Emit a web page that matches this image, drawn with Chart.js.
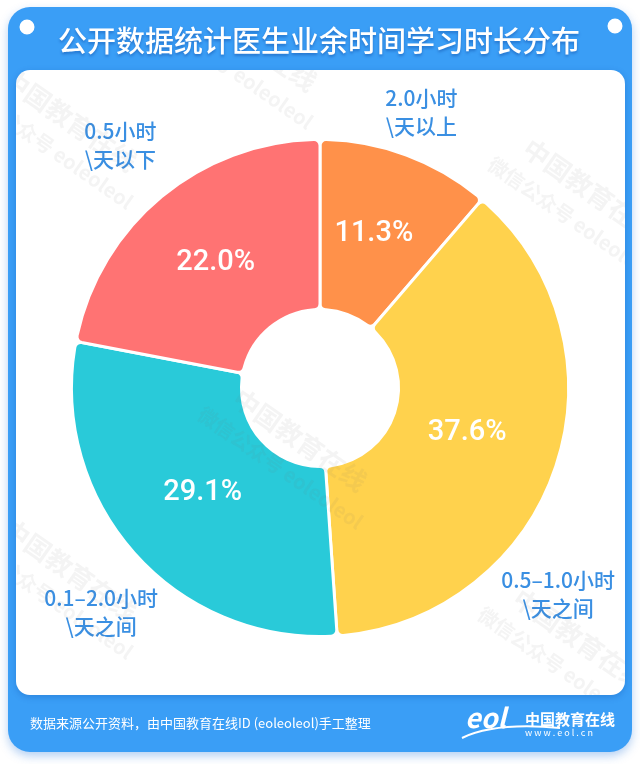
<!DOCTYPE html>
<html lang="zh">
<head>
<meta charset="utf-8">
<title>公开数据统计医生业余时间学习时长分布</title>
<script src="https://cdn.jsdelivr.net/npm/chart.js@4.4.1/dist/chart.umd.min.js"></script>
<style>
    html, body { margin: 0; padding: 0; background: #fff; }
    canvas { display: block; }
</style>
</head>
<body>
<canvas id="studyChart" width="640" height="764"></canvas>
<script>
// Chart data (clockwise from 12 o'clock)
const categories = ['2.0小时\n\\天以上', '0.5–1.0小时\n\\天之间', '0.1–2.0小时\n\\天之间', '0.5小时\n\\天以下'];
const shares = [11.3, 37.6, 29.1, 22.0];
const sliceColors = ['#FF914A', '#FFD24D', '#29CAD9', '#FF7373'];

const titleText = '公开数据统计医生业余时间学习时长分布';
const sourceText = '数据来源公开资料，由中国教育在线ID (eoleoleol)手工整理';

const FONT = '"Noto Sans CJK SC", "Noto Sans", sans-serif';
const BLUE = '#3A9EF6';
const LABEL_BLUE = '#3A8FE2';

// small nudges for the text around the ring (px)
const outerNudge = [[-3, 6], [-47, 111], [6, 25], [-8, -11]];
const innerNudge = [[-3, -1], [-8, -7], [5, -4], [0, 1]];

function roundRect(ctx, x, y, w, h, r) {
    ctx.beginPath();
    ctx.moveTo(x + r, y);
    ctx.arcTo(x + w, y, x + w, y + h, r);
    ctx.arcTo(x + w, y + h, x, y + h, r);
    ctx.arcTo(x, y + h, x, y, r);
    ctx.arcTo(x, y, x + w, y, r);
    ctx.closePath();
}

// Card background, title, footer
const backgroundPlugin = {
    id: 'cardBackground',
    beforeDraw(chart) {
        const ctx = chart.ctx;
        ctx.save();
        ctx.fillStyle = '#fff';
        ctx.fillRect(0, 0, chart.width, chart.height);

        ctx.shadowColor = 'rgba(40, 120, 220, 0.35)';
        ctx.shadowBlur = 10;
        ctx.shadowOffsetY = 4;
        ctx.fillStyle = BLUE;
        roundRect(ctx, 8, 7, 624, 745, 22);
        ctx.fill();

        ctx.shadowColor = 'rgba(0, 60, 150, 0.25)';
        ctx.shadowBlur = 6;
        ctx.shadowOffsetY = 2;
        ctx.fillStyle = '#fff';
        roundRect(ctx, 16, 70, 609, 625, 14);
        ctx.fill();
        ctx.shadowColor = 'transparent';

        // dots in the corners
        ctx.beginPath();
        ctx.arc(27, 27, 7.5, 0, Math.PI * 2);
        ctx.arc(615, 26, 7.5, 0, Math.PI * 2);
        ctx.fill();

        // title
        ctx.shadowColor = 'rgba(0, 50, 140, 0.4)';
        ctx.shadowBlur = 3;
        ctx.shadowOffsetY = 2;
        ctx.font = '500 29px ' + FONT;
        ctx.textAlign = 'center';
        ctx.textBaseline = 'middle';
        ctx.fillText(titleText, 319, 41);
        ctx.shadowColor = 'transparent';

        // footer
        ctx.font = '13px ' + FONT;
        ctx.textAlign = 'left';
        ctx.fillText(sourceText, 30, 723);

        // logo
        ctx.font = 'italic bold 27px ' + FONT;
        ctx.fillText('eol', 465, 718);
        ctx.strokeStyle = '#fff';
        ctx.lineWidth = 2;
        ctx.beginPath();
        ctx.moveTo(462, 738);
        ctx.quadraticCurveTo(495, 722, 560, 728);
        ctx.stroke();
        ctx.font = 'bold 15px ' + FONT;
        ctx.fillText('中国教育在线', 525, 719);
        ctx.font = '9px ' + FONT;
        ctx.fillText('w w w . e o l . c n', 525, 733);
        ctx.restore();
    }
};

// Percent labels inside slices and category labels outside
const sliceLabelsPlugin = {
    id: 'sliceLabels',
    afterDatasetsDraw(chart) {
        const ctx = chart.ctx;
        const arcs = chart.getDatasetMeta(0).data;
        ctx.save();
        ctx.textAlign = 'center';
        ctx.textBaseline = 'middle';
        arcs.forEach((arc, i) => {
            const pos = arc.tooltipPosition();
            ctx.fillStyle = '#fff';
            ctx.font = '500 29px Roboto, ' + FONT;
            ctx.fillText(shares[i].toFixed(1) + '%', pos.x + innerNudge[i][0], pos.y + innerNudge[i][1]);

            const p = arc.getProps(['x', 'y', 'startAngle', 'endAngle', 'outerRadius']);
            const mid = (p.startAngle + p.endAngle) / 2;
            const r = p.outerRadius + 52;
            const cx = p.x + Math.cos(mid) * r + outerNudge[i][0];
            const cy = p.y + Math.sin(mid) * r + outerNudge[i][1];
            const lines = categories[i].split('\n');
            ctx.fillStyle = LABEL_BLUE;
            ctx.font = '500 21px ' + FONT;
            lines.forEach((line, k) => {
                ctx.fillText(line, cx, cy + (k - (lines.length - 1) / 2) * 28);
            });
        });
        ctx.restore();
    }
};

// faint watermark
const watermarkPlugin = {
    id: 'watermark',
    afterDraw(chart) {
        const ctx = chart.ctx;
        const spots = [[70, 120], [250, 40], [590, 190], [300, 440], [70, 570], [580, 640]];
        ctx.save();
        ctx.beginPath();
        roundRect(ctx, 16, 70, 609, 625, 14);
        ctx.clip();
        ctx.fillStyle = 'rgba(110, 110, 110, 0.08)';
        ctx.textAlign = 'center';
        ctx.textBaseline = 'middle';
        spots.forEach(([x, y]) => {
            ctx.save();
            ctx.translate(x, y);
            ctx.rotate(35 * Math.PI / 180);
            ctx.font = 'bold 26px ' + FONT;
            ctx.fillText('中国教育在线', 0, 0);
            ctx.font = 'bold 20px ' + FONT;
            ctx.fillText('微信公众号 eoleoleol', 0, 34);
            ctx.restore();
        });
        ctx.restore();
    }
};

let studyChart = null;
function initializeChart() {
    const ctx = document.getElementById('studyChart').getContext('2d');
    studyChart = new Chart(ctx, {
        type: 'doughnut',
        data: {
            labels: categories,
            datasets: [{
                data: shares,
                backgroundColor: sliceColors,
                borderColor: '#fff',
                borderWidth: 3,
                borderRadius: 6
            }]
        },
        options: {
            responsive: false,
            animation: false,
            cutout: '31.6%',
            layout: {
                padding: { left: 70, right: 70, top: 138, bottom: 126 }
            },
            plugins: {
                legend: { display: false },
                tooltip: { enabled: false }
            }
        },
        plugins: [backgroundPlugin, sliceLabelsPlugin, watermarkPlugin]
    });
}

document.addEventListener('DOMContentLoaded', function() {
    initializeChart();
});
</script>
</body>
</html>
